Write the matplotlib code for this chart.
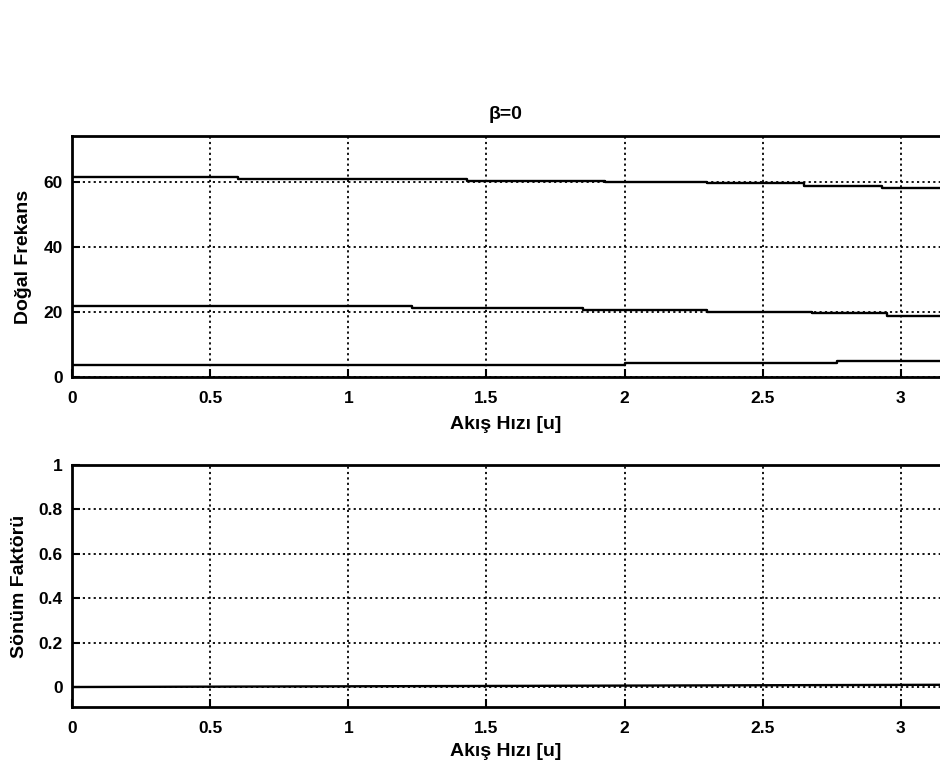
import matplotlib
matplotlib.use("Agg")
import matplotlib.pyplot as plt

plt.rcParams['font.family'] = ['Liberation Sans', 'DejaVu Sans']

# ---- data ----
title_text = "β=0"
xlabel_text = "Akış Hızı [u]"
ylabel_top = "Doğal Frekans"
ylabel_bot = "Sönüm Faktörü"

x_ticks = [0, 0.5, 1, 1.5, 2, 2.5, 3]
x_ticklabels = ["0", "0.5", "1", "1.5", "2", "2.5", "3"]
y_ticks_top = [0, 20, 40, 60]
y_ticks_bot = [0, 0.2, 0.4, 0.6, 0.8, 1]
y_ticklabels_bot = ["0", "0.2", "0.4", "0.6", "0.8", "1"]

# natural frequency, mode 1 (lowest)
u_mode1 = [0.0, 2.0, 2.77, 3.1416]
f_mode1 = [3.6, 4.4, 4.9, 4.9]
# mode 2
u_mode2 = [0.0, 0.5, 1.23, 1.85, 2.3, 2.68, 2.95, 3.1416]
f_mode2 = [21.8, 21.7, 21.3, 20.6, 20.1, 19.6, 18.7, 18.7]
# mode 3
u_mode3 = [0.0, 0.6, 1.43, 1.93, 2.3, 2.65, 2.93, 3.1416]
f_mode3 = [61.5, 60.7, 60.3, 59.9, 59.5, 58.8, 58.0, 58.0]

# damping factor
u_damp = [0.0, 3.1416]
z_damp = [0.0, 0.01]

x_lim = (0, 3.1416)
y_lim_top = (0, 74)
y_lim_bot = (-0.09, 1.0)

# ---- figure ----
W, H = 940, 768
fig = plt.figure(figsize=(W / 100, H / 100), dpi=100)
fig.patch.set_facecolor('white')

left = 72 / W
width = (940 - 72) / W
ax1 = fig.add_axes([left, 1 - 377 / H, width, (377 - 136) / H])
ax2 = fig.add_axes([left, 1 - 707 / H, width, (707 - 465) / H])

tick_fs = 12.5
label_fs = 14
for ax in (ax1, ax2):
    ax.set_xlim(*x_lim)
    ax.set_xticks(x_ticks)
    ax.set_xticklabels(x_ticklabels)
    ax.grid(True, linestyle=(0, (1.2, 1.8)), color='black', linewidth=1.3)
    ax.set_axisbelow(True)
    ax.tick_params(direction='in', length=6, width=1.5, labelsize=tick_fs,
                   top=False, right=False)
    ax.tick_params(axis='x', pad=10)
    ax.tick_params(axis='y', pad=6.5)
    for s in ('left', 'bottom', 'top'):
        ax.spines[s].set_linewidth(2.0)
    ax.spines['right'].set_visible(False)

ax1.set_xlabel(xlabel_text, fontsize=label_fs, fontweight='bold', labelpad=7)
ax2.set_xlabel(xlabel_text, fontsize=label_fs, fontweight='bold', labelpad=5)

for u, f in ((u_mode1, f_mode1), (u_mode2, f_mode2), (u_mode3, f_mode3)):
    ax1.plot(u, f, color='black', linewidth=1.7, drawstyle='steps-post')
ax1.set_ylim(*y_lim_top)
ax1.set_yticks(y_ticks_top)
ax1.set_ylabel(ylabel_top, fontsize=label_fs, fontweight='bold', labelpad=8)
ax1.set_title(title_text, fontsize=label_fs, fontweight='bold', pad=12)

ax2.plot(u_damp, z_damp, color='black', linewidth=1.7)
ax2.set_ylim(*y_lim_bot)
ax2.set_yticks(y_ticks_bot)
ax2.set_yticklabels(y_ticklabels_bot)
ax2.set_ylabel(ylabel_bot, fontsize=label_fs, fontweight='bold', labelpad=8)

for ax in (ax1, ax2):
    for t in ax.get_xticklabels() + ax.get_yticklabels():
        t.set_fontweight('bold')

fig.savefig("out.png", dpi=100, facecolor='white')
